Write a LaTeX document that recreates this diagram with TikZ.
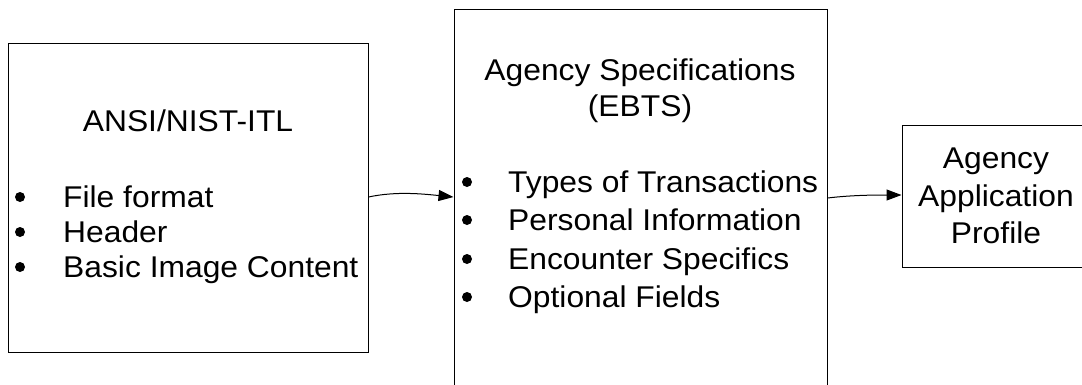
\documentclass[tikz,border=0pt]{standalone}
\usepackage{fontspec}
\setmainfont{Liberation Sans}[FakeStretch=1.06]
\usetikzlibrary{arrows.meta}
\tikzset{
  frame/.style={draw=black, line width=1pt, fill=none, inner sep=0pt},
  txt/.style={inner sep=0pt, anchor=base, font=\fontsize{30}{36}\selectfont},
  itm/.style={inner sep=0pt, anchor=base west, font=\fontsize{30}{36}\selectfont},
  dot/.style={circle, fill=black, inner sep=0pt, minimum size=10pt},
  link/.style={draw=black, line width=1pt, -{Triangle[length=15pt,width=11pt]}},
}
\begin{document}
\begin{tikzpicture}[x=1pt, y=-1pt]
\useasboundingbox (0,0) rectangle (1082,384);
\clip (0,0) rectangle (1082,384);

% boxes
\node[frame, minimum width=360pt, minimum height=309pt] (ansi) at (188,197.5) {};
\node[frame, minimum width=373pt, minimum height=378pt] (ebts) at (640.5,198) {};
\node[frame, minimum width=188pt, minimum height=142pt] (prof) at (996,196) {};

% ANSI/NIST-ITL
\node[txt] (t1) at (188,131) {ANSI/NIST-ITL};
\foreach \y/\s [count=\i] in {207/File format, 242/Header, 277/Basic Image Content} {
  \node[dot] (a\i) at (20,\y-10) {};
  \node[itm] (ai\i) at (63,\y) {\s};
}

% Agency specifications
\node[txt] (t2a) at (640,80) {Agency Specifications};
\node[txt] (t2b) at (640,116) {(EBTS)};
\foreach \y/\s [count=\i] in {192/Types of Transactions, 230/Personal Information, 269/Encounter Specifics, 307/Optional Fields} {
  \node[dot] (b\i) at (467,\y-10) {};
  \node[itm] (bi\i) at (508,\y) {\s};
}

% Agency application profile
\node[txt] (t3a) at (996,168) {Agency};
\node[txt] (t3b) at (996,206) {Application};
\node[txt] (t3c) at (996,243) {Profile};

% connectors
\draw[link] ([yshift=0.5pt]ansi.east) .. controls +(28,-6) and +(-30,-3) .. ([yshift=1pt]ebts.west);
\draw[link] (ebts.east) .. controls +(25,-3) and +(-25,0) .. ([yshift=1pt]prof.west);
\end{tikzpicture}
\end{document}
